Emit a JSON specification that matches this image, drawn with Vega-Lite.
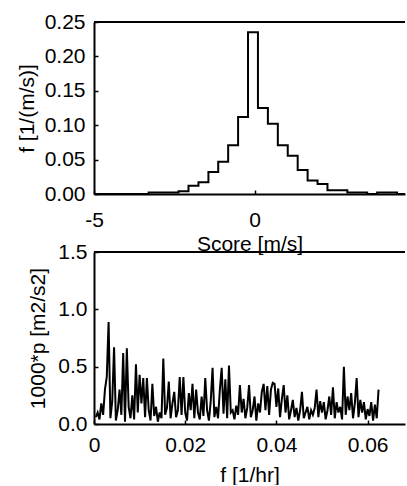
{
  "$schema": "https://vega.github.io/schema/vega-lite/v6.json",
  "background": "white",
  "padding": {"left": 16, "top": 11, "right": 0, "bottom": 0},
  "autosize": {"type": "pad"},
  "bounds": "flush",
  "spacing": 58,
  "config": {
    "view": {"stroke": null},
    "font": "Liberation Sans",
    "axis": {
      "grid": false,
      "domainColor": "black",
      "domainWidth": 2,
      "tickColor": "black",
      "tickWidth": 1.5,
      "tickSize": -4,
      "labelFont": "Liberation Sans",
      "labelFontSize": 21,
      "labelColor": "black",
      "labelFlush": false,
      "labelBound": false,
      "titleFont": "Liberation Sans",
      "titleFontSize": 21,
      "titleFontWeight": "normal",
      "titleColor": "black"
    }
  },
  "vconcat": [
    {
      "width": 311,
      "height": 172,
      "layer": [
        {
          "data": {"values": [
            {"score": -5.0, "f": 0},
            {"score": -3.30, "f": 0.0023},
            {"score": -2.99, "f": 0.0023},
            {"score": -2.68, "f": 0.0023},
            {"score": -2.37, "f": 0.004},
            {"score": -2.06, "f": 0.012},
            {"score": -1.75, "f": 0.017},
            {"score": -1.44, "f": 0.032},
            {"score": -1.135, "f": 0.047},
            {"score": -0.826, "f": 0.0707},
            {"score": -0.517, "f": 0.112},
            {"score": -0.208, "f": 0.235},
            {"score": 0.101, "f": 0.125},
            {"score": 0.41, "f": 0.102},
            {"score": 0.719, "f": 0.0707},
            {"score": 1.028, "f": 0.0555},
            {"score": 1.337, "f": 0.035},
            {"score": 1.646, "f": 0.0195},
            {"score": 1.955, "f": 0.0145},
            {"score": 2.264, "f": 0.0053},
            {"score": 2.573, "f": 0.0053},
            {"score": 2.882, "f": 0.0023},
            {"score": 3.191, "f": 0.0023},
            {"score": 3.50, "f": 0},
            {"score": 3.809, "f": 0.0023},
            {"score": 4.118, "f": 0.0023},
            {"score": 4.427, "f": 0},
            {"score": 4.676, "f": 0}
          ]},
          "mark": {"type": "line", "interpolate": "step-after", "color": "black", "strokeWidth": 2, "clip": true},
          "encoding": {
            "x": {"field": "score", "type": "quantitative",
              "scale": {"domain": [-5, 4.676], "nice": false, "zero": false},
              "axis": {"orient": "bottom", "values": [-5, 0], "labelExpr": "'' + datum.value", "labelOverlap": false, "labelPadding": 19, "labelDx": 5, "title": "Score [m/s]", "titlePadding": 3}},
            "y": {"field": "f", "type": "quantitative",
              "scale": {"domain": [0, 0.25], "nice": false},
              "axis": {"orient": "left", "values": [0, 0.05, 0.1, 0.15, 0.2, 0.25], "format": ".2f", "labelOverlap": false, "labelPadding": 13, "title": "f [1/(m/s)]", "titlePadding": 7}}
          }
        },
        {
          "data": {"values": [{"top": 0.25}]},
          "mark": {"type": "rule", "color": "black", "strokeWidth": 2},
          "encoding": {"y": {"field": "top", "type": "quantitative",
            "axis": {"orient": "left", "values": [0, 0.05, 0.1, 0.15, 0.2, 0.25], "format": ".2f", "labelOverlap": false, "labelPadding": 13, "title": "f [1/(m/s)]", "titlePadding": 7}}}
        }
      ]
    },
    {
      "width": 311,
      "height": 172,
      "layer": [
        {
          "data": {"values": [
            {"freq": 0.0004, "p": 0.06}, {"freq": 0.0008, "p": 0.10}, {"freq": 0.0012, "p": 0.04}, {"freq": 0.0016, "p": 0.18},
            {"freq": 0.0020, "p": 0.08}, {"freq": 0.0024, "p": 0.30}, {"freq": 0.0028, "p": 0.41}, {"freq": 0.0032, "p": 0.89},
            {"freq": 0.0036, "p": 0.05}, {"freq": 0.0040, "p": 0.20}, {"freq": 0.0044, "p": 0.67}, {"freq": 0.0048, "p": 0.03},
            {"freq": 0.0052, "p": 0.12}, {"freq": 0.0056, "p": 0.30}, {"freq": 0.0060, "p": 0.08}, {"freq": 0.0064, "p": 0.62},
            {"freq": 0.0068, "p": 0.02}, {"freq": 0.0072, "p": 0.66}, {"freq": 0.0076, "p": 0.15}, {"freq": 0.0080, "p": 0.05},
            {"freq": 0.0084, "p": 0.25}, {"freq": 0.0088, "p": 0.04}, {"freq": 0.0092, "p": 0.52}, {"freq": 0.0096, "p": 0.10},
            {"freq": 0.0100, "p": 0.43}, {"freq": 0.0104, "p": 0.18}, {"freq": 0.0108, "p": 0.40}, {"freq": 0.0112, "p": 0.06},
            {"freq": 0.0116, "p": 0.40}, {"freq": 0.0120, "p": 0.12}, {"freq": 0.0124, "p": 0.03}, {"freq": 0.0128, "p": 0.35},
            {"freq": 0.0132, "p": 0.07}, {"freq": 0.0136, "p": 0.15}, {"freq": 0.0140, "p": 0.02}, {"freq": 0.0144, "p": 0.10},
            {"freq": 0.0148, "p": 0.05}, {"freq": 0.0152, "p": 0.57}, {"freq": 0.0156, "p": 0.08}, {"freq": 0.0160, "p": 0.14},
            {"freq": 0.0164, "p": 0.37}, {"freq": 0.0168, "p": 0.05}, {"freq": 0.0172, "p": 0.18}, {"freq": 0.0176, "p": 0.28},
            {"freq": 0.0180, "p": 0.06}, {"freq": 0.0184, "p": 0.12}, {"freq": 0.0188, "p": 0.41}, {"freq": 0.0192, "p": 0.08},
            {"freq": 0.0196, "p": 0.41}, {"freq": 0.0200, "p": 0.10}, {"freq": 0.0204, "p": 0.03}, {"freq": 0.0208, "p": 0.27},
            {"freq": 0.0212, "p": 0.12}, {"freq": 0.0216, "p": 0.35}, {"freq": 0.0220, "p": 0.05}, {"freq": 0.0224, "p": 0.30},
            {"freq": 0.0228, "p": 0.10}, {"freq": 0.0232, "p": 0.04}, {"freq": 0.0236, "p": 0.24}, {"freq": 0.0240, "p": 0.07},
            {"freq": 0.0244, "p": 0.40}, {"freq": 0.0248, "p": 0.12}, {"freq": 0.0252, "p": 0.03}, {"freq": 0.0256, "p": 0.20},
            {"freq": 0.0260, "p": 0.49}, {"freq": 0.0264, "p": 0.06}, {"freq": 0.0268, "p": 0.15}, {"freq": 0.0272, "p": 0.05},
            {"freq": 0.0276, "p": 0.30}, {"freq": 0.0280, "p": 0.49}, {"freq": 0.0284, "p": 0.09}, {"freq": 0.0288, "p": 0.39},
            {"freq": 0.0292, "p": 0.05}, {"freq": 0.0296, "p": 0.51}, {"freq": 0.0300, "p": 0.10}, {"freq": 0.0304, "p": 0.12},
            {"freq": 0.0308, "p": 0.04}, {"freq": 0.0312, "p": 0.16}, {"freq": 0.0316, "p": 0.08}, {"freq": 0.0320, "p": 0.34},
            {"freq": 0.0324, "p": 0.10}, {"freq": 0.0328, "p": 0.22}, {"freq": 0.0332, "p": 0.05}, {"freq": 0.0336, "p": 0.14},
            {"freq": 0.0340, "p": 0.34}, {"freq": 0.0344, "p": 0.06}, {"freq": 0.0348, "p": 0.12}, {"freq": 0.0352, "p": 0.24},
            {"freq": 0.0356, "p": 0.03}, {"freq": 0.0360, "p": 0.18}, {"freq": 0.0364, "p": 0.10}, {"freq": 0.0368, "p": 0.28},
            {"freq": 0.0372, "p": 0.35}, {"freq": 0.0376, "p": 0.12}, {"freq": 0.0380, "p": 0.33}, {"freq": 0.0384, "p": 0.08},
            {"freq": 0.0388, "p": 0.30}, {"freq": 0.0392, "p": 0.36}, {"freq": 0.0396, "p": 0.35}, {"freq": 0.0400, "p": 0.15},
            {"freq": 0.0404, "p": 0.31}, {"freq": 0.0408, "p": 0.06}, {"freq": 0.0412, "p": 0.22}, {"freq": 0.0416, "p": 0.34},
            {"freq": 0.0420, "p": 0.10}, {"freq": 0.0424, "p": 0.25}, {"freq": 0.0428, "p": 0.04}, {"freq": 0.0432, "p": 0.12},
            {"freq": 0.0436, "p": 0.21}, {"freq": 0.0440, "p": 0.06}, {"freq": 0.0444, "p": 0.14}, {"freq": 0.0448, "p": 0.03},
            {"freq": 0.0452, "p": 0.12}, {"freq": 0.0456, "p": 0.28}, {"freq": 0.0460, "p": 0.05}, {"freq": 0.0464, "p": 0.10},
            {"freq": 0.0468, "p": 0.15}, {"freq": 0.0472, "p": 0.04}, {"freq": 0.0476, "p": 0.12}, {"freq": 0.0480, "p": 0.08},
            {"freq": 0.0484, "p": 0.14}, {"freq": 0.0488, "p": 0.30}, {"freq": 0.0492, "p": 0.06}, {"freq": 0.0496, "p": 0.20},
            {"freq": 0.0500, "p": 0.10}, {"freq": 0.0504, "p": 0.19}, {"freq": 0.0508, "p": 0.04}, {"freq": 0.0512, "p": 0.12},
            {"freq": 0.0516, "p": 0.24}, {"freq": 0.0520, "p": 0.08}, {"freq": 0.0524, "p": 0.32}, {"freq": 0.0528, "p": 0.05},
            {"freq": 0.0532, "p": 0.19}, {"freq": 0.0536, "p": 0.10}, {"freq": 0.0540, "p": 0.15}, {"freq": 0.0544, "p": 0.04},
            {"freq": 0.0548, "p": 0.50}, {"freq": 0.0552, "p": 0.08}, {"freq": 0.0556, "p": 0.24}, {"freq": 0.0560, "p": 0.12},
            {"freq": 0.0564, "p": 0.27}, {"freq": 0.0568, "p": 0.05}, {"freq": 0.0572, "p": 0.18}, {"freq": 0.0576, "p": 0.40},
            {"freq": 0.0580, "p": 0.06}, {"freq": 0.0584, "p": 0.21}, {"freq": 0.0588, "p": 0.10}, {"freq": 0.0592, "p": 0.19},
            {"freq": 0.0596, "p": 0.04}, {"freq": 0.0600, "p": 0.13}, {"freq": 0.0604, "p": 0.07}, {"freq": 0.0608, "p": 0.19},
            {"freq": 0.0612, "p": 0.03}, {"freq": 0.0616, "p": 0.17}, {"freq": 0.0620, "p": 0.05}, {"freq": 0.0624, "p": 0.30}
          ]},
          "mark": {"type": "line", "color": "black", "strokeWidth": 2, "clip": true},
          "encoding": {
            "x": {"field": "freq", "type": "quantitative",
              "scale": {"domain": [0, 0.0682], "nice": false, "zero": false},
              "axis": {"orient": "bottom", "values": [0, 0.02, 0.04, 0.06], "labelExpr": "datum.value == 0 ? '0' : format(datum.value, '.2f')", "labelOverlap": false, "labelPadding": 14, "title": "f [1/hr]", "titlePadding": 9}},
            "y": {"field": "p", "type": "quantitative",
              "scale": {"domain": [0, 1.5], "nice": false},
              "axis": {"orient": "left", "values": [0, 0.5, 1, 1.5], "format": ".1f", "labelOverlap": false, "labelPadding": 11, "title": "1000*p [m2/s2]", "titlePadding": 9}}
          }
        },
        {
          "data": {"values": [{"top": 1.5}]},
          "mark": {"type": "rule", "color": "black", "strokeWidth": 2},
          "encoding": {"y": {"field": "top", "type": "quantitative",
            "axis": {"orient": "left", "values": [0, 0.5, 1, 1.5], "format": ".1f", "labelOverlap": false, "labelPadding": 11, "title": "1000*p [m2/s2]", "titlePadding": 9}}}
        }
      ]
    }
  ]
}
